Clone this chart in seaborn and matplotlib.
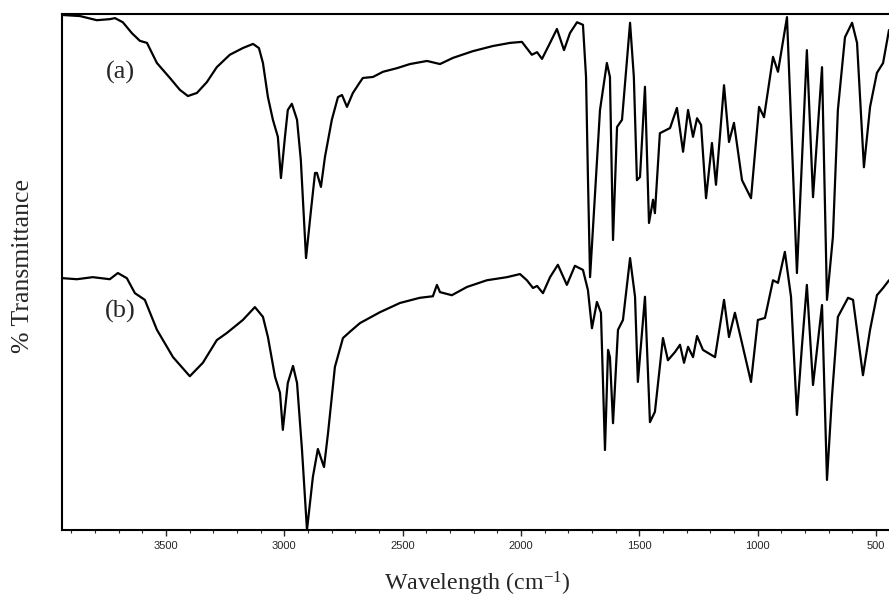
import matplotlib
matplotlib.use("Agg")
import matplotlib.pyplot as plt
import seaborn as sns
import pandas as pd
from matplotlib.ticker import MultipleLocator

# Spectrum (a)
wn_a = [3935, 3863, 3792, 3737, 3715, 3682, 3644, 3610, 3580, 3538, 3483, 3441, 3407, 3369,
        3327, 3285, 3230, 3175, 3132, 3107, 3090, 3069, 3048, 3027, 3014, 2997, 2985, 2968,
        2946, 2930, 2908, 2887, 2870, 2862, 2845, 2828, 2799, 2773, 2756, 2735, 2710, 2680,
        2668, 2625, 2583, 2524, 2469, 2397, 2342, 2287, 2203, 2118, 2046, 1996, 1954, 1932,
        1911, 1877, 1848, 1818, 1793, 1763, 1738, 1725, 1717, 1708, 1666, 1637, 1624, 1611,
        1594, 1573, 1539, 1523, 1510, 1497, 1476, 1459, 1442, 1434, 1413, 1370, 1341, 1315,
        1294, 1273, 1256, 1239, 1218, 1193, 1176, 1142, 1121, 1100, 1066, 1028, 994, 973,
        935, 914, 876, 834, 792, 766, 728, 707, 682, 661, 631, 601, 580, 551, 525, 496, 470, 445]
t_a = [99.8, 99.6, 98.8, 99.0, 99.2, 98.4, 96.3, 94.8, 94.4, 90.5, 87.6, 85.3, 84.1, 84.7,
       86.8, 89.7, 92.1, 93.4, 94.2, 93.4, 90.5, 83.9, 79.5, 76.2, 68.2, 76.2, 81.4, 82.6,
       79.5, 71.7, 52.7, 62.0, 69.2, 69.2, 66.5, 72.3, 79.5, 83.9, 84.3, 82.0, 84.7, 86.8,
       87.6, 87.8, 88.8, 89.5, 90.3, 90.9, 90.3, 91.5, 92.8, 93.8, 94.4, 94.6, 92.1, 92.6,
       91.3, 94.4, 97.1, 93.0, 96.3, 98.4, 97.9, 87.8, 68.4, 49.0, 81.4, 90.5, 87.8, 56.2,
       78.1, 79.5, 98.3, 87.8, 67.8, 68.4, 85.9, 59.5, 64.0, 61.4, 76.9, 77.9, 81.8, 73.3,
       81.4, 76.2, 79.8, 78.5, 64.3, 75.0, 66.9, 86.2, 75.2, 78.9, 67.8, 64.3, 82.0, 80.0,
       91.7, 88.8, 99.4, 49.8, 93.0, 64.5, 89.7, 44.6, 56.8, 81.4, 95.5, 98.3, 94.4, 70.3,
       82.0, 88.6, 90.5, 96.9]

# Spectrum (b)
wn_b = [3935, 3876, 3809, 3737, 3703, 3665, 3631, 3589, 3538, 3470, 3399, 3344, 3285, 3242,
        3175, 3124, 3090, 3069, 3039, 3018, 3006, 2985, 2963, 2946, 2925, 2904, 2879, 2858,
        2832, 2815, 2786, 2752, 2723, 2680, 2596, 2511, 2427, 2372, 2355, 2342, 2292, 2228,
        2144, 2059, 2004, 1975, 1949, 1932, 1907, 1877, 1844, 1806, 1772, 1738, 1717, 1700,
        1679, 1662, 1645, 1632, 1624, 1611, 1590, 1569, 1539, 1518, 1506, 1476, 1455, 1434,
        1400, 1379, 1349, 1328, 1311, 1294, 1273, 1256, 1231, 1180, 1142, 1121, 1096, 1066,
        1028, 999, 969, 935, 914, 885, 859, 834, 813, 792, 766, 728, 707, 686, 661, 618, 597,
        555, 525, 496, 470, 445]
t_b = [48.8, 48.6, 49.0, 48.6, 49.8, 48.8, 45.9, 44.6, 38.8, 33.5, 29.8, 32.4, 36.8, 38.2,
       40.7, 43.2, 41.3, 37.4, 29.7, 26.6, 19.4, 28.5, 31.8, 28.5, 15.5, 0.0, 10.3, 15.7,
       12.2, 18.8, 31.6, 37.2, 38.4, 40.1, 42.2, 44.0, 45.0, 45.3, 47.5, 46.1, 45.5, 47.1,
       48.4, 49.0, 49.6, 48.4, 46.9, 47.3, 45.9, 49.0, 51.4, 47.5, 51.2, 50.4, 46.5, 39.1,
       44.2, 42.1, 15.5, 34.9, 33.5, 20.7, 38.8, 40.7, 52.7, 45.2, 28.7, 45.2, 20.9, 22.9,
       37.2, 32.9, 34.5, 35.9, 32.4, 35.5, 33.5, 37.6, 34.9, 33.5, 44.6, 37.4, 42.1, 36.2,
       28.7, 40.7, 41.1, 48.4, 47.9, 53.9, 45.2, 22.3, 35.5, 47.5, 28.1, 43.6, 9.7, 25.8,
       41.3, 45.0, 44.6, 30.0, 38.8, 45.5, 46.9, 48.4]

labels = ["(a)", "(b)"]
xticks = [3500, 3000, 2500, 2000, 1500, 1000, 500]

df = pd.concat([
    pd.DataFrame({"wn": wn_a, "t": t_a, "s": "a"}),
    pd.DataFrame({"wn": wn_b, "t": t_b, "s": "b"}),
])

sns.set_style("white")
plt.rcParams["font.family"] = ["Liberation Serif", "DejaVu Serif"]
plt.rcParams["mathtext.fontset"] = "custom"
plt.rcParams["mathtext.rm"] = "Liberation Serif"

fig = plt.figure(figsize=(8.89, 6.01), dpi=100)
fig.patch.set_facecolor("white")
ax = fig.add_axes([62 / 889, 71 / 601, (889 - 62) / 889, 516 / 601])

sns.lineplot(data=df, x="wn", y="t", units="s", estimator=None, sort=False,
             color="black", linewidth=1.6, ax=ax, legend=False)
for ln in ax.get_lines():
    ln.set_solid_joinstyle("round")

ax.set_xlim(3939, 445)
ax.set_ylim(0, 100)
ax.set_yticks([])
ax.set_xticks(xticks)
ax.set_xticklabels([str(v) for v in xticks], family="Liberation Sans", fontsize=8)
ax.xaxis.set_minor_locator(MultipleLocator(100))
ax.tick_params(axis="x", which="major", direction="out", length=4, width=1, bottom=True, pad=4)
ax.tick_params(axis="x", which="minor", direction="out", length=2, width=0.8, bottom=True)

for side in ["left", "bottom", "top"]:
    ax.spines[side].set_linewidth(1.5)
    ax.spines[side].set_color("black")
ax.spines["right"].set_visible(False)

ax.set_xlabel("Wavelength (cm$\\mathregular{^{-1}}$)", fontsize=17.3, va="center")
ax.xaxis.set_label_coords((477 - 62) / 827, (530 - 584) / 516)
ax.set_ylabel("% Transmittance", fontsize=18.5, va="center")
ax.yaxis.set_label_coords((23 - 62) / 827, (530 - 266) / 516)

ax.text(3694, 88.6, labels[0], fontsize=19, ha="center", va="center")
ax.text(3694, 42.4, labels[1], fontsize=19, ha="center", va="center")

fig.savefig("out.png", dpi=100)
